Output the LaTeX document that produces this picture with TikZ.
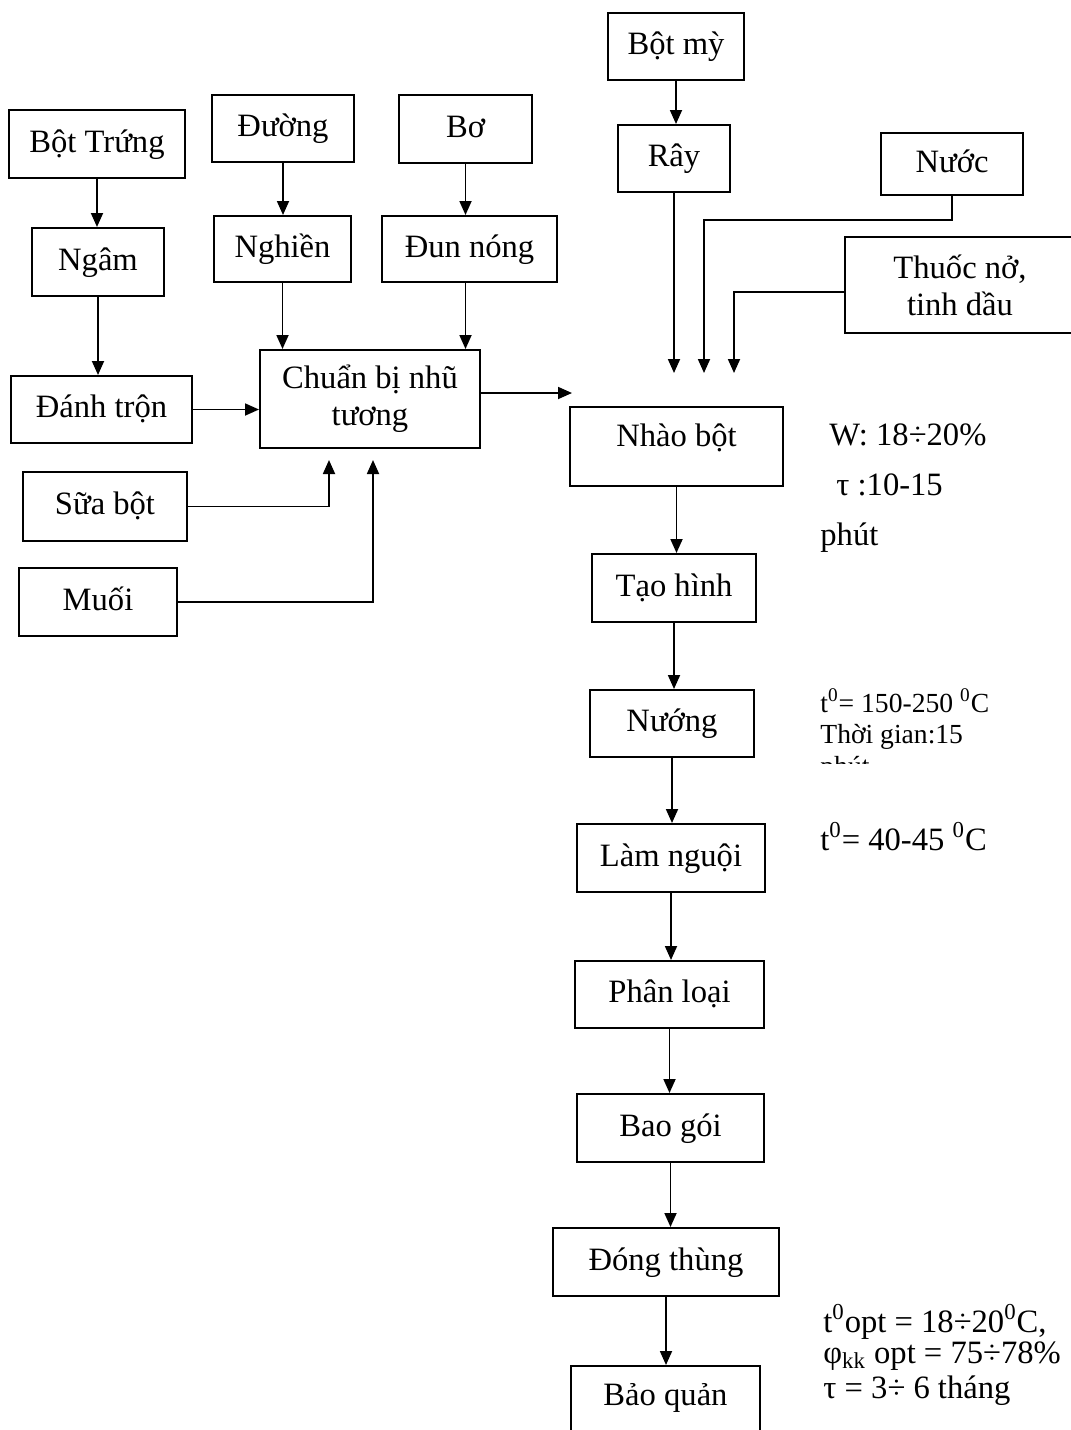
\documentclass[tikz,border=0pt]{standalone}
\usepackage{fontspec}
\setmainfont{Liberation Serif}
\usetikzlibrary{arrows.meta}

\begin{document}
\begin{tikzpicture}[
    x=0.5pt,y=-0.5pt,
    base/.style={draw, line width=1pt, inner sep=2pt, font=\fontsize{16.3}{18.5}\selectfont},
    box/.style={base, text height=12pt, text depth=4pt},
    box2/.style={base, align=center},
    sz/.style 2 args={minimum width=#1pt, minimum height=#2pt},
    arr/.style={-{Triangle[length=7pt,width=6pt]}, line width=0.9pt},
    note/.style={anchor=base west, inner sep=0pt, font=\fontsize{16.3}{18.5}\selectfont},
    smallnote/.style={anchor=base west, inner sep=0pt, font=\fontsize{13.8}{14.5}\selectfont}
  ]
    \useasboundingbox (0,0) rectangle (1071,1430);
    % left side: emulsion
    \node[box, sz={88}{34}] (trung) at (97,144) {Bột Trứng};
    \node[box, sz={66}{34}] (ngam) at (98,262) {Ngâm};
    \node[box, sz={90.5}{33.5}] (danh) at (101.5,409.5) {Đánh trộn};
    \node[box, sz={71}{33.5}] (duong) at (283,128.5) {Đường};
    \node[box, sz={68.5}{33}] (nghien) at (282.5,249) {Nghiền};
    \node[box, sz={66.5}{34}] (bo) at (465.5,129) {Bơ};
    \node[box, sz={87.5}{33}] (dun) at (469.5,249) {Đun nóng};
    \node[box2, sz={110}{49}] (nhutuong) at (370,399) {Chuẩn bị nhũ\\tương};
    \node[box, sz={82}{34.5}] (sua) at (105,506.5) {Sữa bột};
    \node[box, sz={79}{34}] (muoi) at (98,602) {Muối};
    % right side: dough line
    \node[box, sz={68}{33.5}] (botmy) at (676,46.5) {Bột mỳ};
    \node[box, sz={56}{33.5}] (ray) at (674,158.5) {Rây};
    \node[box, sz={71}{31}] (nuoc) at (952,164) {Nước};
    \node[box2, sz={115}{48}] (thuoc) at (960,285) {Thuốc nở,\\tinh dầu};
    \node[box, sz={106.5}{39.5}, text depth=12.5pt] (nhao) at (676.5,446.5) {Nhào bột};
    \node[box, sz={82}{34}] (taohinh) at (674,588) {Tạo hình};
    \node[box, sz={82}{33.5}] (nuong) at (672,723.5) {Nướng};
    \node[box, sz={94}{34}] (lamnguoi) at (671,858) {Làm nguội};
    \node[box, sz={94.5}{33.5}] (phanloai) at (669.5,994.5) {Phân loại};
    \node[box, sz={93.5}{34}] (baogoi) at (670.5,1128) {Bao gói};
    \node[box, sz={113}{34}] (dongthung) at (666,1262) {Đóng thùng};
    \node[box, sz={94.5}{37}, text depth=10pt] (baoquan) at (665.5,1403) {Bảo quản};
    % free arrow ends
    \coordinate (suaend) at (329,460);
    \coordinate (muoiend) at (373,460);
    \coordinate (nhuend) at (572,393);
    \coordinate (rayend) at (674,373);
    \coordinate (nuocbend) at (952,220);
    \coordinate (nuocend) at (704,373);
    \coordinate (thuocend) at (734,373);
    % connectors
    \foreach \a/\b in {trung/ngam, ngam/danh, duong/nghien, nghien/nhutuong, bo/dun, botmy/ray,
                       nhao/taohinh, taohinh/nuong, nuong/lamnguoi, lamnguoi/phanloai,
                       phanloai/baogoi, baogoi/dongthung, dongthung/baoquan}
      \draw[arr] (\a.south) -- (\a.south |- \b.north);
    \draw[arr] (bo.south |- dun.south) -- (bo.south |- nhutuong.north);
    \draw[arr] (danh.east) -- (danh.east -| nhutuong.west);
    \draw[arr] (sua.east) -| (suaend);
    \draw[arr] (muoi.east) -| (muoiend);
    \draw[arr] (nhutuong.east |- nhuend) -- (nhuend);
    \draw[arr] (ray.south) -- (rayend);
    \draw[arr] (nuoc.south) -- (nuocbend) -| (nuocend);
    \draw[arr] ([yshift=-3.5pt]thuoc.west) -| (thuocend);
    % process notes
    \node[note] (wnote) at (829,445) {W: 18÷20\%};
    \node[note] (taunote) at (836,495) {τ :10-15};
    \node[note] (phutnote) at (820,545) {phút};
    \node[smallnote] (nuongnote) at (820,712) {t\textsuperscript{0}= 150-250 \textsuperscript{0}C};
    \node[smallnote] (timenote) at (820,743) {Thời gian:15};
    \begin{scope}
      \clip (800,750) rectangle (1000,763);
      \node[smallnote] (cutnote) at (820,775) {phút};
    \end{scope}
    \node[note] (coolnote) at (820,850) {t\textsuperscript{0}= 40-45 \textsuperscript{0}C};
    \node[note] (storenote1) at (823,1332) {t\textsuperscript{0}opt = 18÷20\textsuperscript{0}C,};
    \node[note] (storenote2) at (823,1363) {φ\textsubscript{kk} opt = 75÷78\%};
    \node[note] (storenote3) at (823,1398) {τ = 3÷ 6 tháng};
  \end{tikzpicture}
\end{document}
